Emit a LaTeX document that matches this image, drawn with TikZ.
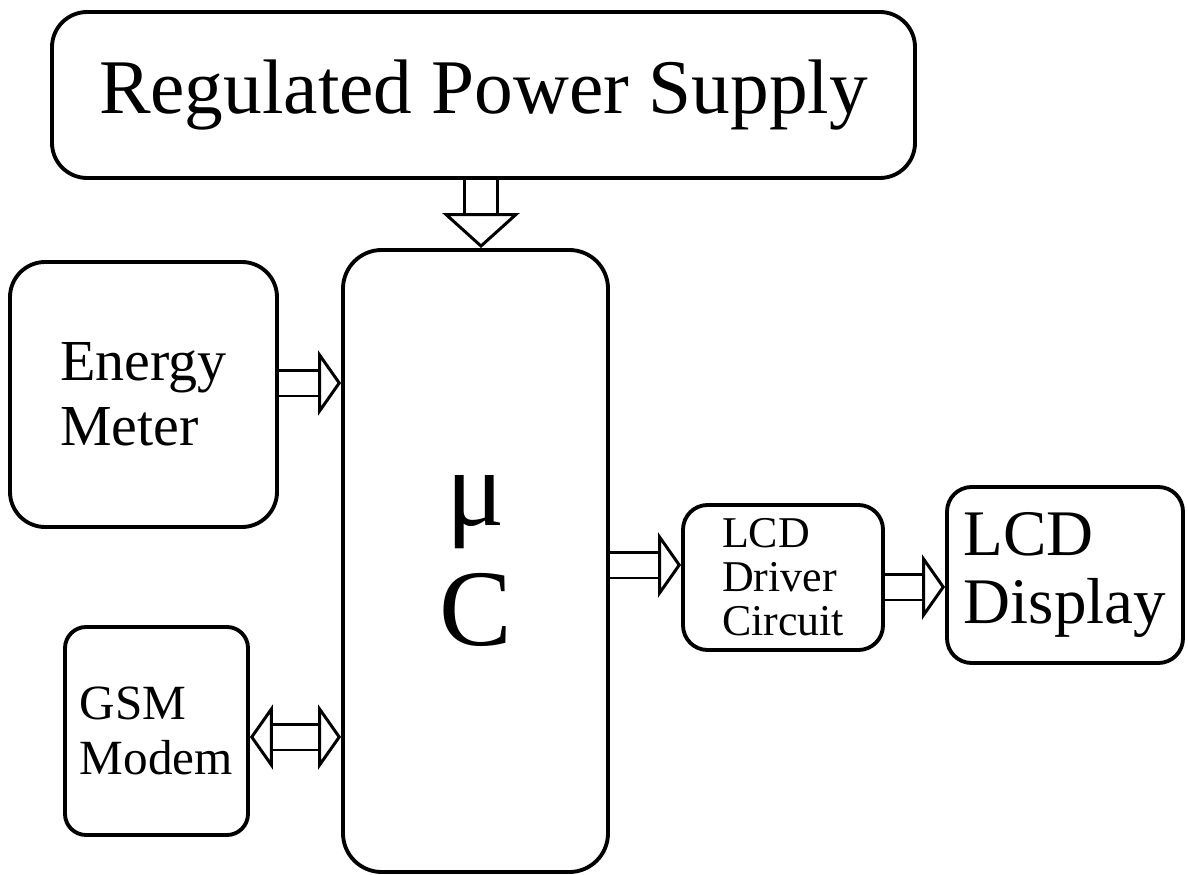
\documentclass[tikz,border=0pt]{standalone}
\usepackage{fontspec}
\setmainfont{Liberation Serif}
\usetikzlibrary{positioning,arrows.meta}

\begin{document}
\begin{tikzpicture}[
  blk/.style={draw, line width=2.2pt, rounded corners=14pt, align=left, inner sep=0pt},
  dbl/.style={double, line width=1.7pt, double distance=0.46cm, -{Triangle[open, length=0.46cm, width=1.3cm]}}]
\useasboundingbox (0,0) rectangle (23.76,-17.5);
% blocks
\node[blk, minimum width=17.26cm, minimum height=3.32cm, rounded corners=20pt,
  font=\fontsize{44}{48}\selectfont] (rps) at (9.67,-1.9) {Regulated Power Supply};
\node[blk, minimum width=5.3cm, minimum height=12.44cm, rounded corners=22pt, align=center,
  font=\fontsize{62}{68}\selectfont] (uc) at (9.51,-11.22) {μ\\C};
\node[blk, minimum width=5.34cm, minimum height=5.3cm, rounded corners=20pt,
  font=\fontsize{33}{37}\selectfont] (em) at (2.87,-7.89) {Energy\\Meter};
\node[blk, minimum width=3.66cm, minimum height=4.16cm, rounded corners=12pt,
  font=\fontsize{28}{31}\selectfont] (gsm) at (3.13,-14.62) {GSM\\Modem};
\node[blk, minimum width=4.0cm, minimum height=2.9cm, rounded corners=14pt,
  font=\fontsize{25}{25}\selectfont] (drv) at (15.66,-11.55) {LCD\\Driver\\Circuit};
\node[blk, minimum width=4.72cm, minimum height=3.52cm, rounded corners=14pt,
  font=\fontsize{37}{39}\selectfont] (disp) at (21.3,-11.5) {LCD\\Display};
% connectors
\coordinate (psin) at ([xshift=0.11cm]uc.north);
\draw[dbl, double distance=0.6cm, -{Triangle[open, length=0.7cm, width=1.54cm]}] (psin |- rps.south) -- (psin);
\coordinate (emout) at ([yshift=0.23cm]em.east);
\draw[dbl] (emout) -- (emout -| uc.west);
\coordinate (gsmout) at ([yshift=-0.12cm]gsm.east);
\draw[dbl, {Triangle[open, length=0.46cm, width=1.3cm]}-{Triangle[open, length=0.46cm, width=1.3cm]}] (gsmout) -- (gsmout -| uc.west);
\coordinate (drvin) at ([yshift=0.25cm]drv.west);
\draw[dbl] (drvin -| uc.east) -- (drvin);
\coordinate (dispin) at ([yshift=-0.24cm]disp.west);
\draw[dbl] (dispin -| drv.east) -- (dispin);
\end{tikzpicture}
\end{document}
